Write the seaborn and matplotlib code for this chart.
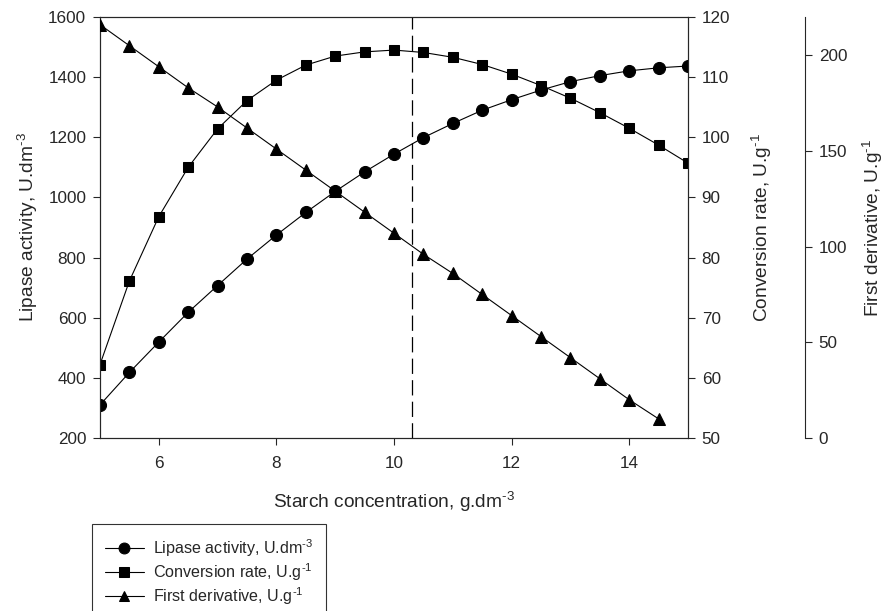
import numpy as np
import pandas as pd
import matplotlib
matplotlib.use("Agg")
import matplotlib.pyplot as plt
import seaborn as sns

# data
starch = [5, 5.5, 6, 6.5, 7, 7.5, 8, 8.5, 9, 9.5, 10, 10.5, 11, 11.5, 12, 12.5, 13, 13.5, 14, 14.5, 15]
lipase = [310, 418, 519, 618, 707, 795, 875, 950, 1020, 1085, 1144, 1199, 1246, 1290, 1325, 1357, 1385, 1405, 1421, 1431, 1437]
conversion = [62.2, 76.1, 86.8, 95.0, 101.4, 106.1, 109.5, 112.0, 113.5, 114.2, 114.5, 114.1, 113.3, 112.1, 110.5, 108.6, 106.5, 104.1, 101.5, 98.7, 95.7]
deriv_x = starch[:-1]
derivative = [216, 205, 194, 183, 173, 162, 151, 140, 129, 118, 107, 96, 86, 75, 64, 53, 42, 31, 20, 10]
optimum = 10.3

sns.set_style("ticks")
plt.rcParams['font.family'] = ['Liberation Sans', 'DejaVu Sans']
plt.rcParams['mathtext.fontset'] = 'custom'
plt.rcParams['mathtext.rm'] = 'Liberation Sans'
plt.rcParams['lines.scale_dashes'] = False

HY = '\u2010'  # plain hyphen so the superscript is not a long minus
lab_lip = 'Lipase activity, U.dm$\\mathregular{^{' + HY + '3}}$'
lab_conv = 'Conversion rate, U.g$\\mathregular{^{' + HY + '1}}$'
lab_der = 'First derivative, U.g$\\mathregular{^{' + HY + '1}}$'
lab_x = 'Starch concentration, g.dm$\\mathregular{^{' + HY + '3}}$'

df1 = pd.DataFrame({'x': starch, 'y': lipase})
df2 = pd.DataFrame({'x': starch, 'y': conversion})
df3 = pd.DataFrame({'x': deriv_x, 'y': derivative})

fig = plt.figure(figsize=(8.87, 6.11), dpi=100)
ax = fig.add_axes([0.1127, 0.2831, 0.6630, 0.6891])
ax2 = ax.twinx()
ax3 = ax.twinx()

line_kw = dict(color='black', linewidth=0.8, markeredgecolor='black', markerfacecolor='black')
sns.lineplot(data=df1, x='x', y='y', ax=ax, marker='o', markersize=8.7,
             label=lab_lip, legend=False, **line_kw)
sns.lineplot(data=df2, x='x', y='y', ax=ax2, marker='s', markersize=7.7,
             label=lab_conv, legend=False, **line_kw)
sns.lineplot(data=df3, x='x', y='y', ax=ax3, marker='^', markersize=8.7,
             label=lab_der, legend=False, **line_kw)

ax.axvline(optimum, color='black', linewidth=0.9, linestyle=(0, (11, 4.5)))

ax.set_xlim(5, 15)
ax.set_ylim(200, 1600)
ax2.set_ylim(50, 120)
ax3.set_ylim(0, 220)
ax.set_xticks([6, 8, 10, 12, 14])
ax.set_yticks(range(200, 1601, 200))
ax2.set_yticks(range(50, 121, 10))
ax3.set_yticks([0, 50, 100, 150, 200])

ax3.spines['right'].set_position(('axes', 1.199))
ax3.spines['top'].set_visible(False)
ax3.spines['left'].set_visible(False)
ax3.spines['bottom'].set_visible(False)

for a in (ax, ax2, ax3):
    a.tick_params(direction='out', length=4.8, width=0.8, labelsize=12.3, pad=5)
    for s in a.spines.values():
        s.set_linewidth(0.8)
ax.tick_params(axis='x', pad=8)

ax.set_xlabel(lab_x, fontsize=13.8, labelpad=14)
ax.set_ylabel(lab_lip, fontsize=13.8, labelpad=6)
ax2.set_ylabel(lab_conv, fontsize=13.8, labelpad=14)
ax3.set_ylabel(lab_der, fontsize=13.8, labelpad=10)

handles = [ax.lines[0], ax2.lines[0], ax3.lines[0]]
labels = [h.get_label() for h in handles]
leg = fig.legend(handles, labels, loc='upper left', bbox_to_anchor=(0.104, 0.1425),
                 fontsize=11.6, frameon=True, fancybox=False, edgecolor='black',
                 handlelength=2.4, handletextpad=0.55, labelspacing=0.15,
                 borderpad=0.8, borderaxespad=0, markerscale=0.9)
leg.get_frame().set_linewidth(0.8)

fig.savefig('out.png', dpi=100)
